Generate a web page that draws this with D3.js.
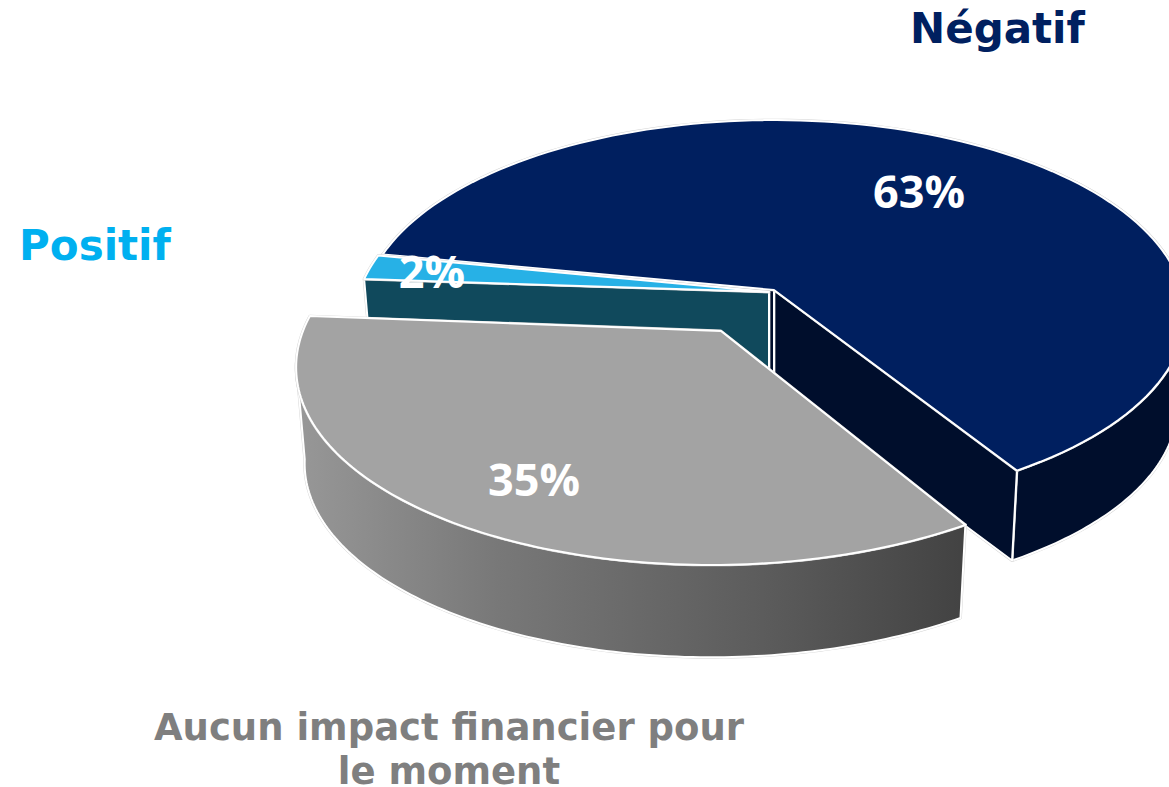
<html>
<head>
<meta charset="utf-8">
<script src="https://d3js.org/d3.v7.min.js"></script>
<style>
  html, body { margin: 0; padding: 0; background: #fff; overflow: hidden; }
  svg { display: block; }
  .cat { font-family: "DejaVu Sans"; font-weight: bold; }
  .pct { font-family: "Open Sans"; font-weight: bold; fill: #fff; font-size: 45px; text-anchor: middle; }
</style>
</head>
<body>
<svg width="1169" height="787"></svg>
<script>
// data, same order as the original pie
const categories = ["Positif", "Négatif", "Aucun impact financier pour le moment"];
const percents = [2, 63, 35];

const Width = 1169, Height = 787;
const rad = Math.PI / 180;
const startDeg = 273.8;

// each slice is exploded and seen from its own spot, so each has its own disc
const apexes = [[769, 292], [774, 290], [721, 331]];
const radiusX = [410, 408, 418];
const radiusY = [197, 191, 197];
const persp = [0.158, 0.124, 0.158];
const depths = [95, 93.6, 97];
const turnDeg = [0, 0, 0.6];
const shear = [0, 0, 0.045];
const lowerScale = 0.98;

const topColors = ["#27b1e6", "#001f5f", "#a3a3a3"];
const wallColors = ["#10495c", "#000e2c", "#454545"];
const labelPos = [[432, 288], [919, 208], [534, 496]];

const svg = d3.select("svg");

const pie = d3.pie().sort(null).startAngle(startDeg * rad).endAngle((startDeg + 360) * rad);
const arcs = pie(percents);

// gradient on the outer wall of the grey slice
const grad = svg.append("defs").append("linearGradient")
  .attr("id", "greyWall").attr("gradientUnits", "userSpaceOnUse")
  .attr("x1", 300).attr("x2", 960).attr("y1", 0).attr("y2", 0);
grad.append("stop").attr("offset", 0).attr("stop-color", "#979797");
grad.append("stop").attr("offset", 0.3).attr("stop-color", "#787878");
grad.append("stop").attr("offset", 0.7).attr("stop-color", "#5c5c5c");
grad.append("stop").attr("offset", 1).attr("stop-color", "#434343");

// point on the rim of a slice's disc; lower=true gives the bottom face
function rim(i, angle, lower) {
  const a = angle + turnDeg[i] * rad;
  const s = lower ? lowerScale : 1;
  const w = 1 + persp[i] * Math.cos(a);
  const dy = -s * radiusY[i] * Math.cos(a) / w;
  return [
    apexes[i][0] + s * radiusX[i] * Math.sin(a) / w - shear[i] * dy,
    apexes[i][1] + (lower ? depths[i] : 0) + dy
  ];
}
function apex(i, lower) {
  return [apexes[i][0], apexes[i][1] + (lower ? depths[i] : 0)];
}
function rimPoints(i, a0, a1, lower) {
  return d3.range(0, 121).map(k => rim(i, a0 + (a1 - a0) * k / 120, lower));
}

const line = d3.line();
function shape(points, fill) {
  const d = line(points) + "Z";
  // faint grey halo under the white edge
  svg.append("path").attr("d", d).attr("fill", fill)
    .attr("stroke", "#d4d4d4").attr("stroke-width", 2.8).attr("stroke-linejoin", "round");
  svg.append("path").attr("d", d).attr("fill", fill)
    .attr("stroke", "#fff").attr("stroke-width", 2).attr("stroke-linejoin", "round");
}

function radialWall(i, a) {
  shape([apex(i, false), rim(i, a, false), rim(i, a, true), apex(i, true)], wallColors[i]);
}
function outerWall(i, a0, a1, fill) {
  shape(rimPoints(i, a0, a1, false).concat(rimPoints(i, a0, a1, true).reverse()), fill);
}
function topFace(i) {
  shape([apex(i, false)].concat(rimPoints(i, arcs[i].startAngle, arcs[i].endAngle, false)), topColors[i]);
}

// back to front
outerWall(1, arcs[1].endAngle - 100 * rad, arcs[1].endAngle, wallColors[1]);
radialWall(1, arcs[1].endAngle);
radialWall(1, arcs[1].startAngle);
topFace(1);
radialWall(0, arcs[0].startAngle);
topFace(0);
// the grey wall stops where the rim turns away from the viewer
const greyTurn = 4 * Math.PI - Math.acos(-persp[2]) - turnDeg[2] * rad;
outerWall(2, arcs[2].startAngle, greyTurn, "url(#greyWall)");
topFace(2);

// percent labels
svg.selectAll("text.pct").data(percents).enter().append("text")
  .attr("class", "pct")
  .attr("x", (d, i) => labelPos[i][0])
  .attr("y", (d, i) => labelPos[i][1])
  .text(d => d + "%");

// category labels
svg.append("text").attr("class", "cat").attr("x", 19).attr("y", 260)
  .attr("font-size", 42).attr("fill", "#00b0f0").text(categories[0]);
svg.append("text").attr("class", "cat").attr("x", 910).attr("y", 43)
  .attr("font-size", 42).attr("fill", "#002060").text(categories[1]);
svg.append("text").attr("class", "cat").attr("text-anchor", "middle").attr("x", 449).attr("y", 740)
  .attr("font-size", 37).attr("fill", "#7f7f7f").text("Aucun impact financier pour");
svg.append("text").attr("class", "cat").attr("text-anchor", "middle").attr("x", 449).attr("y", 784)
  .attr("font-size", 37).attr("fill", "#7f7f7f").text("le moment");
</script>
</body>
</html>
